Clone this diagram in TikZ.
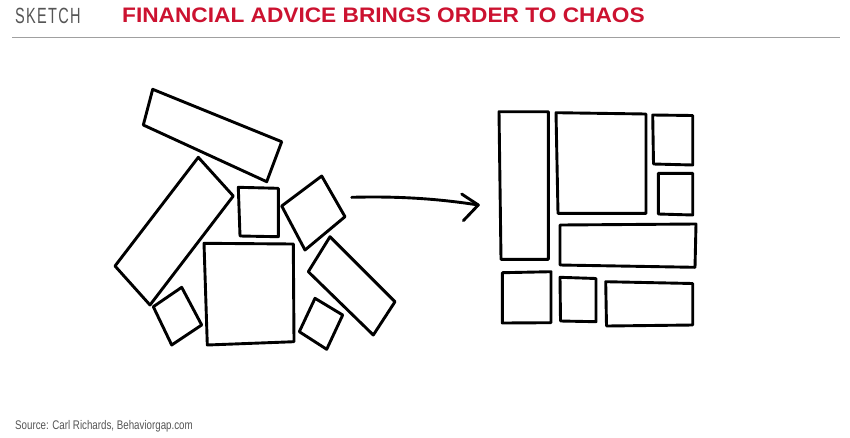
\documentclass[tikz,border=0pt]{standalone}
\usepackage{fontspec}
\newfontfamily\hdrfont[FakeStretch=0.66,LetterSpace=6]{Liberation Sans}
\newfontfamily\srcfont[FakeStretch=0.78]{Liberation Sans}
\newfontfamily\ttlfont[FakeStretch=1.08]{Liberation Sans}
\definecolor{titlered}{RGB}{204,18,48}
\definecolor{hdrgray}{RGB}{85,85,85}
\definecolor{rulegray}{RGB}{160,160,160}
\tikzset{
  blk/.style={draw=black, line width=2.9pt, line join=round, line cap=round},
}
\begin{document}
\begin{tikzpicture}[x=1pt,y=-1pt]
\useasboundingbox[fill=white] (0,0) rectangle (850,437);
% header
\node[anchor=base west, inner sep=0, text=hdrgray, font=\hdrfont\fontsize{22}{22}\selectfont] (sk) at (15,23) {SKETCH};
\node[anchor=base west, inner sep=0, text=titlered, font=\ttlfont\bfseries\fontsize{21}{21}\selectfont] (tt) at (122,22.5) {FINANCIAL ADVICE BRINGS ORDER TO CHAOS};
\draw[rulegray, line width=1pt] (12,37.5) -- (840,37.5);
% chaos shapes
\draw[blk] (152.7,89.3) -- (281.7,141.7) -- (266.7,181.7) -- (143.3,125) -- cycle;
\draw[blk] (198.3,157.3) -- (233.3,196) -- (150,305) -- (115,266) -- cycle;
\draw[blk] (238.3,187.3) -- (278.3,188.3) -- (278.3,236.7) -- (240,236) -- cycle;
\draw[blk] (281.7,206) -- (321.7,176) -- (345,216.7) -- (305,250) -- cycle;
\draw[blk] (204,243.3) -- (293.3,244) -- (294,341.7) -- (207.3,345) -- cycle;
\draw[blk] (153.3,306.7) -- (181.7,287.3) -- (201.7,325) -- (171.7,345) -- cycle;
\draw[blk] (299.3,331.7) -- (315,298.3) -- (342.7,315) -- (326.7,349.3) -- cycle;
\draw[blk] (330,236.7) -- (395,301.7) -- (373.3,335) -- (308.3,271.7) -- cycle;
% arrow
\coordinate (as) at (351.7,197.3);
\coordinate (ae) at (478.3,205);
\coordinate (h1) at (461.7,194);
\coordinate (h2) at (463.3,220.7);
\draw[blk] (as) .. controls (400,196) and (440,199) .. (ae);
\draw[blk] (h1) -- (ae) -- (h2);
% order shapes
\draw[blk] (499,111.7) -- (548.3,111.7) -- (548.3,259.3) -- (501,259.3) -- cycle;
\draw[blk] (556,112.7) -- (646,114) -- (646,213.3) -- (558,213.3) -- cycle;
\draw[blk] (652.7,115) -- (692.7,115.5) -- (692.7,165) -- (653.5,164) -- cycle;
\draw[blk] (658.3,173.3) -- (692.7,173.3) -- (692.7,215) -- (658.3,214) -- cycle;
\draw[blk] (560,225) -- (696,224) -- (695,267.3) -- (560,265) -- cycle;
\draw[blk] (502.3,272.7) -- (551,271.7) -- (551,322.7) -- (502.3,323) -- cycle;
\draw[blk] (560,277.3) -- (596,278.5) -- (596,321.7) -- (560.5,321) -- cycle;
\draw[blk] (605.7,281.7) -- (692.7,283.5) -- (692.7,325) -- (606.5,326) -- cycle;
% source
\node[anchor=base west, inner sep=0, text=hdrgray, font=\srcfont\fontsize{12.5}{12.5}\selectfont] (src) at (15,429) {Source: Carl Richards, Behaviorgap.com};
\end{tikzpicture}
\end{document}
